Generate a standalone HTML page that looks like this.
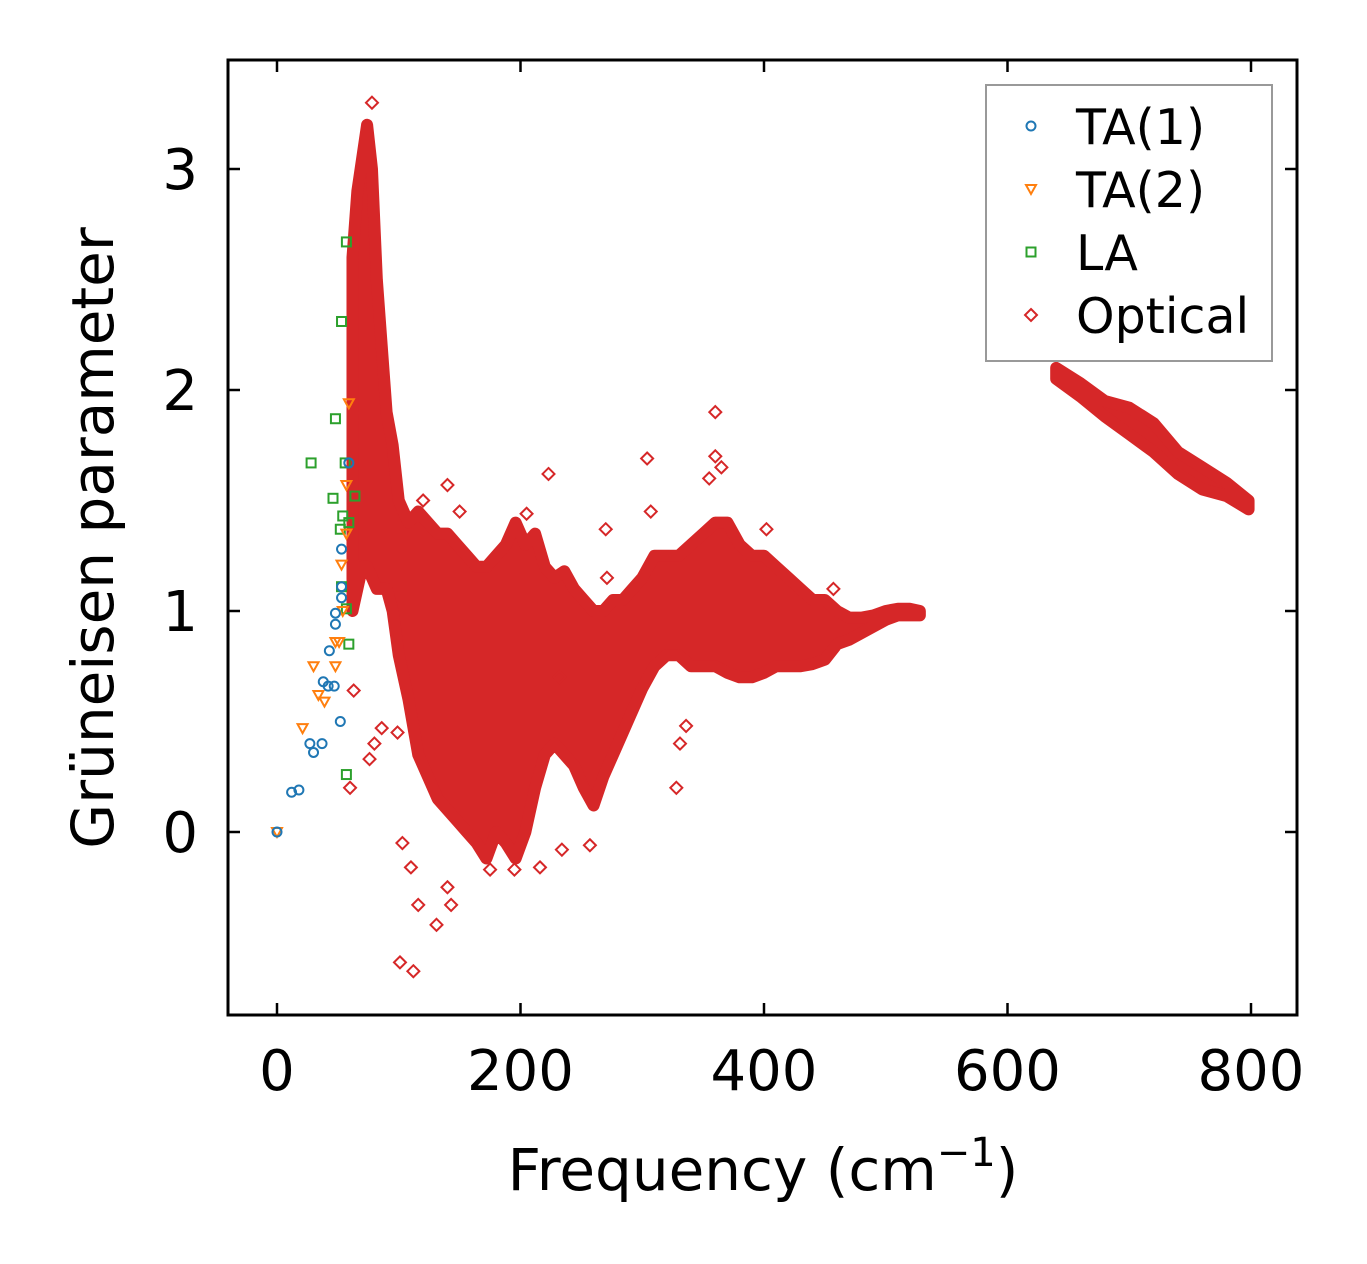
<!DOCTYPE html>
<html><head><meta charset="utf-8"><style>
html,body{margin:0;padding:0;background:#fff;}
svg{display:block;font-family:"DejaVu Sans","Liberation Sans",sans-serif;}
</style></head><body>
<svg id="chart" width="1367" height="1264" viewBox="0 0 1367 1264" xmlns="http://www.w3.org/2000/svg">
<rect width="1367" height="1264" fill="#fff"/>
<g id="marks"></g>
<g id="axes"></g>
<g id="legend"></g>
</svg>
<script>
const xTicks=[0,200,400,600,800];
const yTicks=[0,1,2,3];
const ta1=[[0,0],[12,0.18],[18,0.19],[27,0.4],[30,0.36],[37,0.4],[38,0.68],[42,0.66],[47,0.66],[43,0.82],[48,0.94],[48,0.99],[52,0.5],[53,1.06],[53,1.11],[59,1.67],[53,1.28]];
const ta2=[[0,0],[21,0.47],[30,0.75],[34,0.62],[39,0.59],[48,0.75],[48,0.86],[51,0.86],[53,1.21],[57,1.57],[59,1.94],[54,1.0],[57,1.35]];
const la=[[28,1.67],[46,1.51],[48,1.87],[53,2.31],[57,2.67],[56,1.67],[54,1.43],[52,1.37],[59,0.85],[57,0.26],[53,1.11],[64,1.52],[59,1.4],[57,1.01]];
// optical dense region: [freq, low, high]
const opticalBand=[[62,1.0,2.6],[66,1.1,2.9],[70,1.2,3.05],[74,1.2,3.2],[78,1.15,3.0],[82,1.1,2.5],[86,1.1,2.2],[90,1.1,1.9],[95,1.0,1.75],[100,0.8,1.5],[108,0.6,1.4],[116,0.35,1.45],[124,0.25,1.4],[132,0.15,1.35],[140,0.1,1.35],[148,0.05,1.3],[156,0.0,1.25],[164,-0.05,1.2],[172,-0.12,1.2],[180,0.0,1.25],[188,-0.05,1.3],[196,-0.12,1.4],[204,0.0,1.3],[212,0.2,1.35],[220,0.35,1.2],[228,0.4,1.15],[236,0.35,1.18],[244,0.3,1.1],[252,0.2,1.05],[260,0.12,1.0],[268,0.25,1.0],[276,0.35,1.05],[284,0.45,1.05],[292,0.55,1.1],[300,0.65,1.15],[310,0.75,1.25],[320,0.8,1.25],[330,0.8,1.25],[340,0.75,1.3],[350,0.75,1.35],[360,0.75,1.4],[370,0.72,1.4],[380,0.7,1.3],[390,0.7,1.25],[400,0.72,1.25],[410,0.75,1.2],[420,0.75,1.15],[430,0.75,1.1],[440,0.76,1.05],[450,0.78,1.05],[460,0.85,1.0],[470,0.87,0.97],[480,0.9,0.97],[490,0.93,0.98],[500,0.96,1.0],[510,0.98,1.01],[520,0.98,1.01],[528,0.98,1.0]];
const opticalHigh=[[640,2.05,2.1],[660,1.97,2.03],[680,1.88,1.95],[700,1.8,1.92],[720,1.72,1.85],[740,1.62,1.72],[760,1.55,1.65],[780,1.52,1.58],[798,1.46,1.5]];
const opticalPts=[[78,3.3],[101,-0.59],[112,-0.63],[116,-0.33],[131,-0.42],[140,-0.25],[143,-0.33],[103,-0.05],[110,-0.16],[223,1.62],[140,1.57],[360,1.9],[304,1.69],[328,0.2],[234,-0.08],[257,-0.06],[216,-0.16],[271,1.15],[76,0.33],[60,0.2],[63,0.64],[86,0.47],[336,0.48],[331,0.4],[402,1.37],[457,1.1],[99,0.45],[175,-0.17],[195,-0.17],[360,1.7],[365,1.65],[307,1.45],[120,1.5],[150,1.45],[205,1.44],[270,1.37],[355,1.6],[80,0.4],[232,0.7]];

const X0=228,X1=1297,Y0=60,Y1=1015;
const xs=v=>277+v*1.2175;
const ys=v=>832-v*221;
const NS='http://www.w3.org/2000/svg';
function mk(tag,attrs,parent){const e=document.createElementNS(NS,tag);for(const k in attrs)e.setAttribute(k,attrs[k]);parent.appendChild(e);return e;}
const marks=document.getElementById('marks');
const axes=document.getElementById('axes');
const legend=document.getElementById('legend');
const RED='#d62728',BLUE='#1f77b4',ORANGE='#ff7f0e',GREEN='#2ca02c';

function bandPath(b){let up=b.map(d=>xs(d[0])+','+ys(d[2]));let lo=b.slice().reverse().map(d=>xs(d[0])+','+ys(d[1]));return 'M'+up.join('L')+'L'+lo.join('L')+'Z';}
let p=mk('path',{d:bandPath(opticalBand),fill:RED,stroke:RED,'stroke-width':12,'stroke-linejoin':'round'},marks);


p=mk('path',{d:bandPath(opticalHigh),fill:RED,stroke:RED,'stroke-width':12,'stroke-linejoin':'round'},marks);



function diamond(cx,cy,s){return `M${cx},${cy-s}L${cx+s},${cy}L${cx},${cy+s}L${cx-s},${cy}Z`;}
opticalPts.forEach(d=>{const e=mk('path',{d:diamond(xs(d[0]),ys(d[1]),6),fill:'none',stroke:RED,'stroke-width':2},marks);

});
la.forEach(d=>{const e=mk('rect',{x:xs(d[0])-4.5,y:ys(d[1])-4.5,width:9,height:9,fill:'none',stroke:GREEN,'stroke-width':2},marks);

});
ta2.forEach(d=>{const cx=xs(d[0]),cy=ys(d[1]);const e=mk('path',{d:`M${cx-5},${cy-4}L${cx+5},${cy-4}L${cx},${cy+5}Z`,fill:'none',stroke:ORANGE,'stroke-width':2},marks);

});
ta1.forEach(d=>{const e=mk('circle',{cx:xs(d[0]),cy:ys(d[1]),r:4.5,fill:'none',stroke:BLUE,'stroke-width':2},marks);

});

let f=mk('rect',{x:X0,y:Y0,width:X1-X0,height:Y1-Y0,fill:'none',stroke:'#000','stroke-width':3},axes);


xTicks.forEach(v=>{const x=xs(v);
mk('line',{x1:x,x2:x,y1:Y1,y2:Y1-12,stroke:'#000','stroke-width':2.5},axes);
mk('line',{x1:x,x2:x,y1:Y0,y2:Y0+12,stroke:'#000','stroke-width':2.5},axes);
const t=mk('text',{x:x,y:1090,'text-anchor':'middle','font-size':56,fill:'#000'},axes);t.textContent=v;

});
yTicks.forEach(v=>{const y=ys(v);
mk('line',{x1:X0,x2:X0+12,y1:y,y2:y,stroke:'#000','stroke-width':2.5},axes);
mk('line',{x1:X1,x2:X1-12,y1:y,y2:y,stroke:'#000','stroke-width':2.5},axes);
const t=mk('text',{x:198,y:y+20,'text-anchor':'end','font-size':56,fill:'#000'},axes);t.textContent=v;

});
</script>
<script>
(function(){
const axes=document.getElementById('axes');const legend=document.getElementById('legend');
const NS='http://www.w3.org/2000/svg';
function mk(tag,attrs,parent){const e=document.createElementNS(NS,tag);for(const k in attrs)e.setAttribute(k,attrs[k]);parent.appendChild(e);return e;}
let t=mk('text',{x:763,y:1190,'text-anchor':'middle','font-size':58,fill:'#000'},axes);
t.innerHTML='Frequency (cm<tspan dy="-24" font-size="40">−1</tspan><tspan dy="24">)</tspan>';


t=mk('text',{x:0,y:0,'text-anchor':'middle','font-size':58,fill:'#000',transform:'translate(113,538) rotate(-90)'},axes);
t.textContent='Grüneisen parameter';


let b=mk('rect',{x:986,y:85,width:286,height:276,fill:'#fff',stroke:'#999','stroke-width':2},legend);


const ents=[['TA(1)','#1f77b4','c'],['TA(2)','#ff7f0e','t'],['LA','#2ca02c','s'],['Optical','#d62728','d']];
ents.forEach((e,i)=>{const y=126+i*63,x=1031;
const g=mk('g',{},legend);


if(e[2]=='c')mk('circle',{cx:x,cy:y,r:4.5,fill:'none',stroke:e[1],'stroke-width':2},g);
if(e[2]=='t')mk('path',{d:`M${x-5},${y-4}L${x+5},${y-4}L${x},${y+5}Z`,fill:'none',stroke:e[1],'stroke-width':2},g);
if(e[2]=='s')mk('rect',{x:x-4.5,y:y-4.5,width:9,height:9,fill:'none',stroke:e[1],'stroke-width':2},g);
if(e[2]=='d')mk('path',{d:`M${x},${y-6}L${x+6},${y}L${x},${y+6}L${x-6},${y}Z`,fill:'none',stroke:e[1],'stroke-width':2},g);
const tx=mk('text',{x:1076,y:y+18,'font-size':49,fill:'#000'},g);tx.textContent=e[0];});
})();
</script>
</body></html>
